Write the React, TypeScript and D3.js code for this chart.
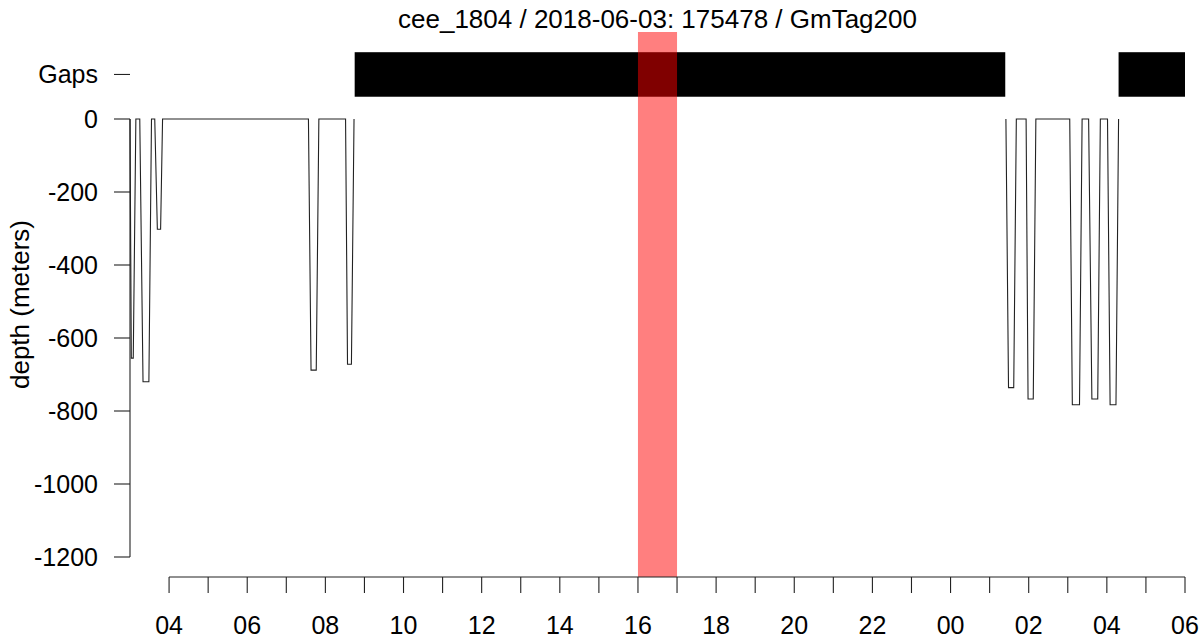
import React from "react";
import * as d3 from "d3";

const TITLE = "cee_1804 / 2018-06-03: 175478 / GmTag200";
const Y_LABEL = "depth (meters)";
const GAPS_LABEL = "Gaps";

const X_START = "2018-06-03 03:00";
const X_END = "2018-06-04 06:00";
const TICK_START = "2018-06-03 04:00";

const DEPTH_TICKS = [0, -200, -400, -600, -800, -1000, -1200];

// Dive profile, two segments separated by a data gap
const seg1Times = [
  "2018-06-03 03:00", "2018-06-03 03:02", "2018-06-03 03:05", "2018-06-03 03:09",
  "2018-06-03 03:15", "2018-06-03 03:20", "2018-06-03 03:29", "2018-06-03 03:33",
  "2018-06-03 03:38", "2018-06-03 03:42", "2018-06-03 03:47", "2018-06-03 03:50",
  "2018-06-03 07:34", "2018-06-03 07:38", "2018-06-03 07:46", "2018-06-03 07:50",
  "2018-06-03 08:31", "2018-06-03 08:34", "2018-06-03 08:40", "2018-06-03 08:44",
];
const seg1Depths = [
  0, -655, -655, 0,
  0, -720, -720, 0,
  0, -302, -302, 0,
  0, -688, -688, 0,
  0, -672, -672, 0,
];
const seg2Times = [
  "2018-06-04 01:25", "2018-06-04 01:29", "2018-06-04 01:37", "2018-06-04 01:41",
  "2018-06-04 01:56", "2018-06-04 01:59", "2018-06-04 02:07", "2018-06-04 02:11",
  "2018-06-04 03:03", "2018-06-04 03:07", "2018-06-04 03:18", "2018-06-04 03:22",
  "2018-06-04 03:32", "2018-06-04 03:37", "2018-06-04 03:46", "2018-06-04 03:50",
  "2018-06-04 04:01", "2018-06-04 04:05", "2018-06-04 04:14", "2018-06-04 04:18",
];
const seg2Depths = [
  0, -736, -736, 0,
  0, -767, -767, 0,
  0, -783, -783, 0,
  0, -767, -767, 0,
  0, -783, -783, 0,
];

const gapStarts = ["2018-06-03 08:45", "2018-06-04 04:18"];
const gapEnds = ["2018-06-04 01:24", "2018-06-04 06:00"];

const highlightStart = "2018-06-03 16:00";
const highlightEnd = "2018-06-03 17:00";

// vertical placement of the Gaps row on the depth scale
const GAP_ROW = 122;
const GAP_HALF = 61;

const parse = d3.timeParse("%Y-%m-%d %H:%M");
const p = (s: string) => parse(s) as Date;

export default function App() {
  const W = 1203;
  const H = 643;
  const left = 130;
  const right = 1185;
  const top = 32;
  const bottom = 577;

  const x = d3.scaleTime().domain([p(X_START), p(X_END)]).range([left, right]);
  const y = d3.scaleLinear().domain([-1200, 0]).range([557, 119]);

  const line = d3
    .line<[Date, number]>()
    .x((d) => x(d[0]))
    .y((d) => y(d[1]));

  const segs = [
    seg1Times.map((t, i) => [p(t), seg1Depths[i]] as [Date, number]),
    seg2Times.map((t, i) => [p(t), seg2Depths[i]] as [Date, number]),
  ];

  const hours = d3.timeHour.range(p(TICK_START), d3.timeMinute.offset(p(X_END), 1));
  const fmt = d3.timeFormat("%H");
  const font = "'Liberation Sans', Arial, Helvetica, sans-serif";
  const stroke = "#222";
  const axisY = 577;
  const tickLen = 16;
  const fs = 25;

  return (
    <svg
      width={W}
      height={H}
      style={{ position: "absolute", left: 0, top: 0, background: "#fff" }}
      fontFamily={font}
    >
      <rect x={0} y={0} width={W} height={H} fill="#fff" />
      <text x={(left + right) / 2} y={28} textAnchor="middle" fontSize={26} fill="#000">
        {TITLE}
      </text>

      {/* gaps */}
      {gapStarts.map((s, i) => (
        <rect
          key={"g" + i}
          x={x(p(s))}
          y={y(GAP_ROW + GAP_HALF)}
          width={x(p(gapEnds[i])) - x(p(s))}
          height={y(GAP_ROW - GAP_HALF) - y(GAP_ROW + GAP_HALF)}
          fill="#000"
        />
      ))}

      {/* dive profile */}
      {segs.map((s, i) => (
        <path key={"s" + i} d={line(s) || ""} fill="none" stroke={stroke} strokeWidth={1.1} />
      ))}

      {/* highlight */}
      <rect
        x={x(p(highlightStart))}
        y={top}
        width={x(p(highlightEnd)) - x(p(highlightStart))}
        height={bottom - top}
        fill="red"
        fillOpacity={0.5}
      />

      {/* y axis */}
      <line x1={left} x2={left} y1={y(0)} y2={y(-1200)} stroke={stroke} strokeWidth={1.1} />
      {DEPTH_TICKS.map((d) => (
        <g key={"yt" + d}>
          <line x1={left - tickLen} x2={left} y1={y(d)} y2={y(d)} stroke={stroke} strokeWidth={1.1} />
          <text x={98} y={y(d)} dy="0.35em" textAnchor="end" fontSize={fs} fill="#000">
            {d}
          </text>
        </g>
      ))}
      <line x1={left - tickLen} x2={left} y1={y(GAP_ROW)} y2={y(GAP_ROW)} stroke={stroke} strokeWidth={1.1} />
      <text x={98} y={y(GAP_ROW)} dy="0.35em" textAnchor="end" fontSize={fs} fill="#000">
        {GAPS_LABEL}
      </text>
      <text
        transform={`translate(29,${(top + bottom) / 2}) rotate(-90)`}
        textAnchor="middle"
        fontSize={26}
        fill="#000"
      >
        {Y_LABEL}
      </text>

      {/* x axis */}
      <line
        x1={x(hours[0])}
        x2={x(hours[hours.length - 1])}
        y1={axisY}
        y2={axisY}
        stroke={stroke}
        strokeWidth={1.1}
      />
      {hours.map((h, i) => (
        <g key={"xt" + i}>
          <line x1={x(h)} x2={x(h)} y1={axisY} y2={axisY + tickLen} stroke={stroke} strokeWidth={1.1} />
          {h.getHours() % 2 === 0 && (
            <text x={x(h)} y={634} textAnchor="middle" fontSize={fs} fill="#000">
              {fmt(h)}
            </text>
          )}
        </g>
      ))}
    </svg>
  );
}
